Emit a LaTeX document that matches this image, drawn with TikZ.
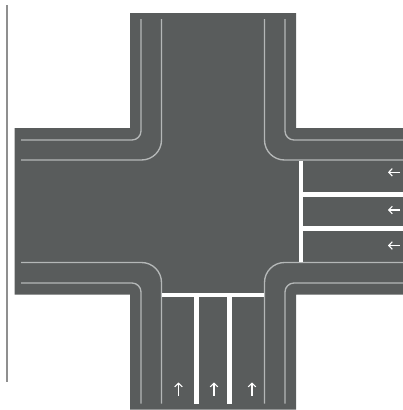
\documentclass[tikz,border=0pt]{standalone}
\usetikzlibrary{arrows.meta}
\definecolor{asphalt}{HTML}{595C5C}
\definecolor{kerb}{HTML}{B4B7B7}
\definecolor{rule}{HTML}{8F8F8F}
\tikzset{x=1pt,y=-1pt,
  kerbline/.style={draw=kerb,line width=1.35pt},
  stopline/.style={draw=white,line width=4.4pt},
  lanearrow/.style={draw=white,line width=1.15pt,-{Straight Barb[length=3.5pt,width=7.5pt]}}}
\begin{document}
\begin{tikzpicture}
\useasboundingbox (0,0) rectangle (403,410);
\draw[rule,line width=1.7pt] (7,5) -- (7,382);
\fill[asphalt] (130,13) -- (296,13) -- (296,128) -- (403,128) -- (403,294.5) -- (296,294.5) -- (296,409.5) -- (130,409.5) -- (130,294.5) -- (14.5,294.5) -- (14.5,128) -- (130,128) -- cycle;
% kerb lines
\draw[kerbline] (141,19) -- (141,131) arc[start angle=0,end angle=90,radius=9] -- (21,140);
\draw[kerbline] (161.5,19) -- (161.5,140) arc[start angle=0,end angle=90,radius=20] -- (21,160);
\draw[kerbline] (285,19) -- (285,131) arc[start angle=180,end angle=90,radius=9] -- (403,140);
\draw[kerbline] (264.5,19) -- (264.5,140) arc[start angle=180,end angle=90,radius=20] -- (403,160);
\draw[kerbline] (21,262.5) -- (141.5,262.5) arc[start angle=-90,end angle=0,radius=20] -- (161.5,403.5);
\draw[kerbline] (21,283) -- (132,283) arc[start angle=-90,end angle=0,radius=9] -- (141,403.5);
\draw[kerbline] (403,262.5) -- (284.5,262.5) arc[start angle=-90,end angle=-180,radius=20] -- (264.5,403.5);
\draw[kerbline] (403,283) -- (294,283) arc[start angle=-90,end angle=-180,radius=9] -- (285,403.5);
% stop lines
\coordinate (ea) at (301,160.5);
\coordinate (eb) at (301,262);
\draw[stopline] (ea) -- (eb);
\draw[stopline] (299,194.4) -- (403,194.4);
\draw[stopline] (299,228.4) -- (403,228.4);
\draw[stopline] (162,295) -- (264,295);
\draw[stopline] (196.6,293) -- (196.6,403.5);
\draw[stopline] (229.6,293) -- (229.6,403.5);
% arrows
\draw[lanearrow] (400,172.3) -- (388,172.3);
\draw[lanearrow] (400,210) -- (388,210);
\draw[lanearrow] (400,245.5) -- (388,245.5);
\draw[lanearrow] (178.5,395.5) -- (178.5,382.5);
\draw[lanearrow] (214,395.5) -- (214,382.5);
\draw[lanearrow] (252,395.5) -- (252,382.5);
\end{tikzpicture}
\end{document}
